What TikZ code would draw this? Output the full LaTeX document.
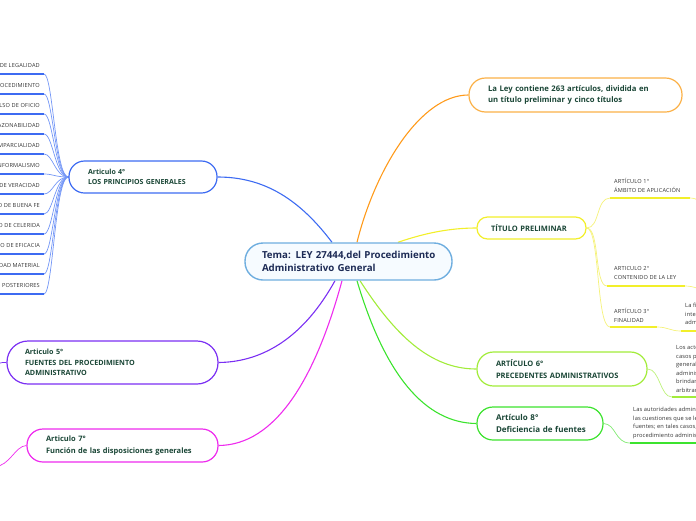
\documentclass[tikz,border=0pt]{standalone}
\usepackage{fontspec}
\setmainfont{Open Sans}
\usetikzlibrary{backgrounds,calc}
\definecolor{cblue}{HTML}{3D6BF2}
\definecolor{cbluel}{HTML}{7396F6}
\definecolor{corange}{HTML}{FF9A1A}
\definecolor{corangebox}{HTML}{FBB148}
\definecolor{cyellow}{HTML}{F2EF2A}
\definecolor{cyellowl}{HTML}{F5F27A}
\definecolor{clime}{HTML}{A2EC3A}
\definecolor{climel}{HTML}{BDF27A}
\definecolor{cgreen}{HTML}{3CE32E}
\definecolor{cgreenl}{HTML}{80EA72}
\definecolor{cpurple}{HTML}{7B2FF3}
\definecolor{cmag}{HTML}{EE2BEE}
\definecolor{ctrb}{HTML}{6FAEDF}
\definecolor{ctrfill}{HTML}{F6FBFF}
\definecolor{labc}{HTML}{1A4636}
\definecolor{navy}{HTML}{1D2B55}
\definecolor{smallc}{HTML}{333333}
\begin{document}
\begin{tikzpicture}[x=1pt,y=-1pt,
  pill/.style={draw, fill=white, line width=1.2pt, align=left, text=labc, inner ysep=0pt, font=\bfseries\fontsize{7.5}{11.5}\selectfont},
  conn/.style={line width=1.1pt},
  subl/.style={line width=0.7pt},
  uline/.style={line width=1.8pt},
  small/.style={inner sep=0pt, align=left, text=smallc, font=\fontsize{5.6}{9}\selectfont\addfontfeatures{LetterSpace=3}},
  para/.style={small, font=\fontsize{5.7}{8.6}\selectfont\addfontfeatures{LetterSpace=2}},
  lst/.style={small, text height=3.9pt, text depth=0pt},
]
\useasboundingbox (0,0) rectangle (696,520);

% central and main nodes
\node[pill, draw=ctrb, line width=1.4pt, fill=ctrfill, text=navy, minimum width=207pt, minimum height=37pt, text width=173pt, inner xsep=17pt, rounded corners=18pt, font=\bfseries\fontsize{9.7}{13}\selectfont] (ctr) at (348.5,261.5) {\mbox{Tema: LEY 27444,del Procedimiento}\\Administrativo General};

\node[pill, draw=corangebox, minimum width=213pt, minimum height=34pt, text width=175pt, inner xsep=19pt, rounded corners=16.5pt, font=\bfseries\fontsize{7.7}{11.8}\selectfont] (ley) at (575.5,95) {\mbox{La Ley contiene 263 artículos, dividida en}\\\mbox{un título preliminar y cinco títulos}};

\node[pill, draw=cyellow, minimum width=109pt, minimum height=22pt, text width=81pt, inner xsep=14pt, rounded corners=10.5pt] (tp) at (531.5,228) {\mbox{TÍTULO PRELIMINAR}};

\node[pill, draw=clime, minimum width=170pt, minimum height=34pt, text width=132pt, inner xsep=19pt, rounded corners=16.5pt] (a6) at (562,369) {ARTÍCULO 6°\\\mbox{PRECEDENTES ADMINISTRATIVOS}};

\node[pill, draw=cgreen, minimum width=126pt, minimum height=33pt, text width=88pt, inner xsep=19pt, rounded corners=16pt, font=\bfseries\fontsize{8}{12}\selectfont] (a8) at (540,423.5) {Artículo 8°\\\mbox{Deficiencia de fuentes}};

\node[pill, draw=cblue, minimum width=148pt, minimum height=32pt, text width=110pt, inner xsep=19pt, rounded corners=15.5pt, font=\bfseries\fontsize{7}{10}\selectfont] (a4) at (143,177) {Articulo 4°\\\mbox{LOS PRINCIPIOS GENERALES}};

\node[pill, draw=cpurple, minimum width=211pt, minimum height=43pt, text width=175pt, inner xsep=18pt, rounded corners=21pt, font=\bfseries\fontsize{7.2}{10.5}\selectfont] (a5) at (112.5,362.5) {Articulo 5°\\\mbox{FUENTES DEL PROCEDIMIENTO}\\ADMINISTRATIVO};

\node[pill, draw=cmag, minimum width=191pt, minimum height=33pt, text width=153pt, inner xsep=19pt, rounded corners=16pt] (a7) at (122.5,445.5) {Articulo 7°\\\mbox{Función de las disposiciones generales}};

% small texts on the right
\node[small, anchor=north west] (t1) at (614,178.5) {ARTÍCULO 1°\\ÁMBITO DE APLICACIÓN};
\node[small, anchor=north west] (t2) at (614,266) {ARTICULO 2°\\CONTENIDO DE LA LEY};
\node[small, anchor=north west] (t3) at (614,308.5) {ARTÍCULO 3°\\FINALIDAD};
\node[para, anchor=north west] (p3) at (685,303) {La finalidad de la presente Ley es que la Administración\\interés general, garantizando los derechos de los\\administrados.};
\node[para, anchor=north west] (q6) at (676,345) {Los actos administrativos que al resolver\\casos particulares interpreten con carácter\\general el sentido de la legislación\\administrativa constituyen precedentes para\\brindar seguridad jurídica y evitar decisiones\\arbitrarias.};
\node[para, anchor=north west] (q8) at (633,407) {Las autoridades administrativas no podrán dejar de resolver\\las cuestiones que se les proponga, por deficiencia de sus\\fuentes; en tales casos, acudirán a los principios del\\procedimiento administrativo previstos en esta Ley.};

\coordinate (a1l) at (610,198); \coordinate (a1r) at (690,198); \coordinate (a1x) at (712,206);
\coordinate (a2l) at (607,286); \coordinate (a2r) at (685,286); \coordinate (a2x) at (712,293);
\coordinate (a3l) at (610,327); \coordinate (a3r) at (657,327);
\coordinate (p3l) at (681,331); \coordinate (p3r) at (705,331);
\coordinate (q6l) at (672,397); \coordinate (q6r) at (705,397);
\coordinate (q8l) at (630,443); \coordinate (q8r) at (705,443);
\coordinate (s5) at (-10,366);
\coordinate (s7) at (-6,467);

% left list of principles
\foreach \t [count=\i] in {PRINCIPIO DE LEGALIDAD, PRINCIPIO DEL DEBIDO PROCEDIMIENTO, PRINCIPIO DE IMPULSO DE OFICIO, PRINCIPIO DE RAZONABILIDAD, PRINCIPIO DE IMPARCIALIDAD, PRINCIPIO DE INFORMALISMO, PRINCIPIO DE PRESUNCIÓN DE VERACIDAD, PRINCIPIO DE BUENA FE, PRINCIPIO DE CELERIDA, PRINCIPIO DE EFICACIA, PRINCIPIO DE VERDAD MATERIAL, PRINCIPIO DE PRIVILEGIO DE CONTROLES POSTERIORES} {
  \pgfmathsetmacro\yy{66+20*(\i-1)}
  \node[lst, anchor=east] (l\i) at (40,\yy) {\t};
  \coordinate (u\i) at (44,\yy+8);
  \coordinate (v\i) at (-10,\yy+8);
  \begin{scope}[on background layer]
    \draw[subl, cbluel] (u\i) .. controls (53,\yy+8) and (55,177) .. (a4.west);
  \end{scope}
  \draw[uline, cblue] (u\i) -- (v\i);
}

\begin{scope}[on background layer]
  \draw[conn, corange] ([xshift=8.5pt]ctr.north) .. controls (375,170) and (420,95) .. (ley.west);
  \draw[conn, cyellow] ([xshift=49.5pt]ctr.north) .. controls (425,233) and (450,228) .. (tp.west);
  \draw[conn, cblue] ([xshift=-16.5pt]ctr.north) .. controls (300,200) and (265,177) .. (a4.east);
  \draw[conn, cpurple] ([xshift=-13.5pt]ctr.south) .. controls (305,335) and (265,362) .. (a5.east);
  \draw[conn, cmag] ([xshift=-6.5pt]ctr.south) .. controls (315,380) and (275,445) .. (a7.east);
  \draw[conn, clime] ([xshift=11.5pt]ctr.south) .. controls (395,335) and (430,369) .. (a6.west);
  \draw[conn, cgreen] ([xshift=8.5pt]ctr.south) .. controls (385,375) and (425,423) .. (a8.west);

  \draw[subl, cyellowl] (tp.east) .. controls (600,228) and (596,198) .. (a1l);
  \draw[subl, cyellowl] (tp.east) .. controls (600,228) and (594,286) .. (a2l);
  \draw[subl, cyellowl] (tp.east) .. controls (600,228) and (596,327) .. (a3l);
  \draw[subl, cyellowl] (a1r) .. controls (698,198) and (700,203) .. (a1x);
  \draw[subl, cyellowl] (a2r) .. controls (695,286) and (700,290) .. (a2x);
  \draw[subl, cyellowl] (a3r) .. controls (668,327) and (670,331) .. (p3l);
  \draw[subl, climel] (a6.east) .. controls (660,369) and (660,397) .. (q6l);
  \draw[subl, cgreenl] (a8.east) .. controls (616,424) and (615,443) .. (q8l);
  \draw[subl, cpurple] (a5.west) .. controls (0,362) and (-2,364) .. (s5);
  \draw[subl, cmag] (a7.west) .. controls (15,446) and (10,466) .. (s7);
\end{scope}

\draw[uline, cyellow] (a1l) -- (a1r);
\draw[uline, cyellow] (a2l) -- (a2r);
\draw[uline, cyellow] (a3l) -- (a3r);
\draw[uline, cyellow] (p3l) -- (p3r);
\draw[uline, clime] (q6l) -- (q6r);
\draw[uline, cgreen] (q8l) -- (q8r);
\end{tikzpicture}
\end{document}
